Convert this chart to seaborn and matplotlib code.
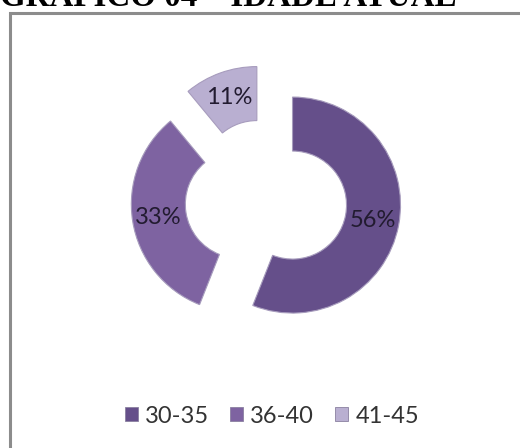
import matplotlib
matplotlib.use("Agg")
import matplotlib.pyplot as plt
import seaborn as sns
from matplotlib.patches import Patch, Rectangle

categories = ["30-35", "36-40", "41-45"]
values = [56, 33, 11]
colors = ["#654f8a", "#7e63a1", "#b9afd1"]
title = "GRÁFICO 04 – IDADE ATUAL"

sns.set_theme(style="white")
plt.rcParams['font.family'] = ['Lato', 'DejaVu Sans']

W, H = 520, 448
fig = plt.figure(figsize=(W / 100, H / 100), dpi=100)

# frame box (left + top edges visible)
fig.patches.append(Rectangle((10 / W, -0.1), 1.2, (H - 13) / H + 0.1, transform=fig.transFigure,
                             fill=False, edgecolor="#8c8c8c", linewidth=2.2, zorder=0))

fig.text(0.0, 1 - 6 / H, title, fontfamily=['Liberation Serif'], fontweight='bold',
         fontsize=23.8, color="black", ha='left', va='baseline')

R = 108.0
cx, cy = 266.0, 200.0
left, right, top, bottom = 100.0, 432.0, 60.0, 340.0
ax = fig.add_axes([left / W, (H - bottom) / H, (right - left) / W, (bottom - top) / H])
wedges, texts, autotexts = ax.pie(values, colors=colors, startangle=90, counterclock=False,
                                  explode=[0.25] * len(values), autopct='%1.0f%%', pctdistance=0.76,
                                  wedgeprops=dict(width=0.5, edgecolor="#a79cbd", linewidth=0.8),
                                  textprops=dict(fontsize=17, color="#221b30"))
ax.set_xlim((left - cx) / R, (right - cx) / R)
ax.set_ylim(-(bottom - cy) / R, (cy - top) / R)
ax.set_aspect('auto')
ax.axis('off')

handles = [Patch(facecolor=c, edgecolor="#8a80a0", linewidth=0.6) for c in colors]
fig.legend(handles, categories, loc='center', bbox_to_anchor=(272 / W, 1 - 416 / H), ncol=3,
           frameon=False, fontsize=17, handlelength=0.55, handleheight=0.55, handletextpad=0.3,
           columnspacing=0.9, labelcolor="#333333")

fig.savefig("out.png", dpi=100)
